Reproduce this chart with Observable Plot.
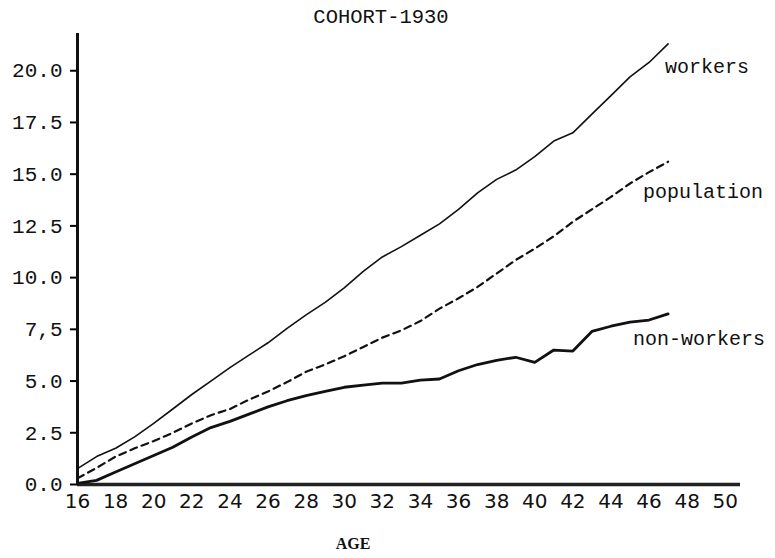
<!DOCTYPE html>
<html><head><meta charset="utf-8">
<script src="https://cdn.jsdelivr.net/npm/d3@7"></script>
<script src="https://cdn.jsdelivr.net/npm/@observablehq/plot@0.6"></script>
<style>body{margin:0;background:#fff}</style>
</head><body><div id="chart"></div>
<script>
const ages = [16,17,18,19,20,21,22,23,24,25,26,27,28,29,30,31,32,33,34,35,36,37,38,39,40,41,42,43,44,45,46,47];
const workers = [0.77,1.35,1.75,2.3,2.95,3.65,4.35,5.0,5.65,6.25,6.85,7.55,8.2,8.8,9.5,10.3,11.0,11.5,12.05,12.6,13.3,14.1,14.75,15.2,15.85,16.6,17.0,17.9,18.8,19.7,20.4,21.3];
const population = [0.3,0.8,1.35,1.75,2.1,2.5,2.95,3.35,3.65,4.1,4.5,4.95,5.45,5.8,6.2,6.65,7.1,7.45,7.9,8.5,9.0,9.55,10.2,10.85,11.4,12.0,12.7,13.3,13.9,14.55,15.1,15.6];
const nonWorkers = [0.05,0.2,0.6,1.0,1.4,1.8,2.3,2.75,3.05,3.4,3.75,4.05,4.3,4.5,4.7,4.8,4.9,4.9,5.05,5.1,5.5,5.8,6.0,6.15,5.9,6.5,6.45,7.4,7.65,7.85,7.95,8.25];
const yTicks = [0,2.5,5,7.5,10,12.5,15,17.5,20];
const yTickLabels = ["0.0","2.5","5.0","7,5","10.0","12.5","15.0","17.5","20.0"];
const xTicks = [16,18,20,22,24,26,28,30,32,34,36,38,40,42,44,46,48,50];
const xDomain = [16,50.8];
const yDomain = [0,21.8];
const title = "COHORT-1930";
const xLabel = "AGE";
const seriesNames = ["workers","population","non-workers"];

const seriesValues = [workers, population, nonWorkers];
const rows = seriesNames.map((name, s) => ages.map((age, i) => ({name, age, value: seriesValues[s][i]})));
const last = rows.map(r => r[r.length - 1]);

const mono = "Liberation Mono, DejaVu Sans Mono, monospace";

const chart = Plot.plot({
  width: 775, height: 558,
  marginLeft: 77, marginRight: 35, marginTop: 33, marginBottom: 74,
  x: {domain: xDomain},
  y: {domain: yDomain},
  style: {background: "white", overflow: "visible"},
  marks: [
    Plot.axisY(yTicks, {tickSize: 7, tickPadding: 8, strokeWidth: 2, fontSize: 21, fontFamily: mono, fill: "#111",
      tickFormat: d => yTickLabels[yTicks.indexOf(d)], label: null}),
    Plot.axisX(xTicks, {tickSize: 0, tickPadding: 9, fontSize: 20, fontFamily: "DejaVu Sans, sans-serif", fill: "#111", label: null}),
    Plot.ruleX([xDomain[0]], {y1: yDomain[0], y2: yDomain[1], strokeWidth: 3, stroke: "#111"}),
    Plot.ruleY([yDomain[0]], {x1: xDomain[0], x2: xDomain[1], strokeWidth: 3.5, stroke: "#222"}),
    Plot.line(rows[0], {x: "age", y: "value", stroke: "#111", strokeWidth: 1.6}),
    Plot.line(rows[1], {x: "age", y: "value", stroke: "#111", strokeWidth: 2.2, strokeDasharray: "7,5"}),
    Plot.line(rows[2], {x: "age", y: "value", stroke: "#111", strokeWidth: 2.8}),
    Plot.text([last[0]], {x: "age", y: "value", text: "name", dx: -3, dy: 23, textAnchor: "start", lineAnchor: "middle", fontSize: 20, fontFamily: mono, fill: "#111"}),
    Plot.text([last[1]], {x: "age", y: "value", text: "name", dx: -25, dy: 30, textAnchor: "start", lineAnchor: "middle", fontSize: 20, fontFamily: mono, fill: "#111"}),
    Plot.text([last[2]], {x: "age", y: "value", text: "name", dx: -35, dy: 25, textAnchor: "start", lineAnchor: "middle", fontSize: 20, fontFamily: mono, fill: "#111"}),
    Plot.text([title], {frameAnchor: "top", dx: -28, dy: -17, lineAnchor: "middle", fontSize: 20.5, fontFamily: mono, fill: "#111"}),
    Plot.text([xLabel], {frameAnchor: "bottom", dx: -56, dy: 59, lineAnchor: "middle", fontSize: 16, fontWeight: "bold", fontFamily: "Liberation Serif, serif", fill: "#111"})
  ]
});
document.getElementById("chart").append(chart);
</script>
</body></html>
